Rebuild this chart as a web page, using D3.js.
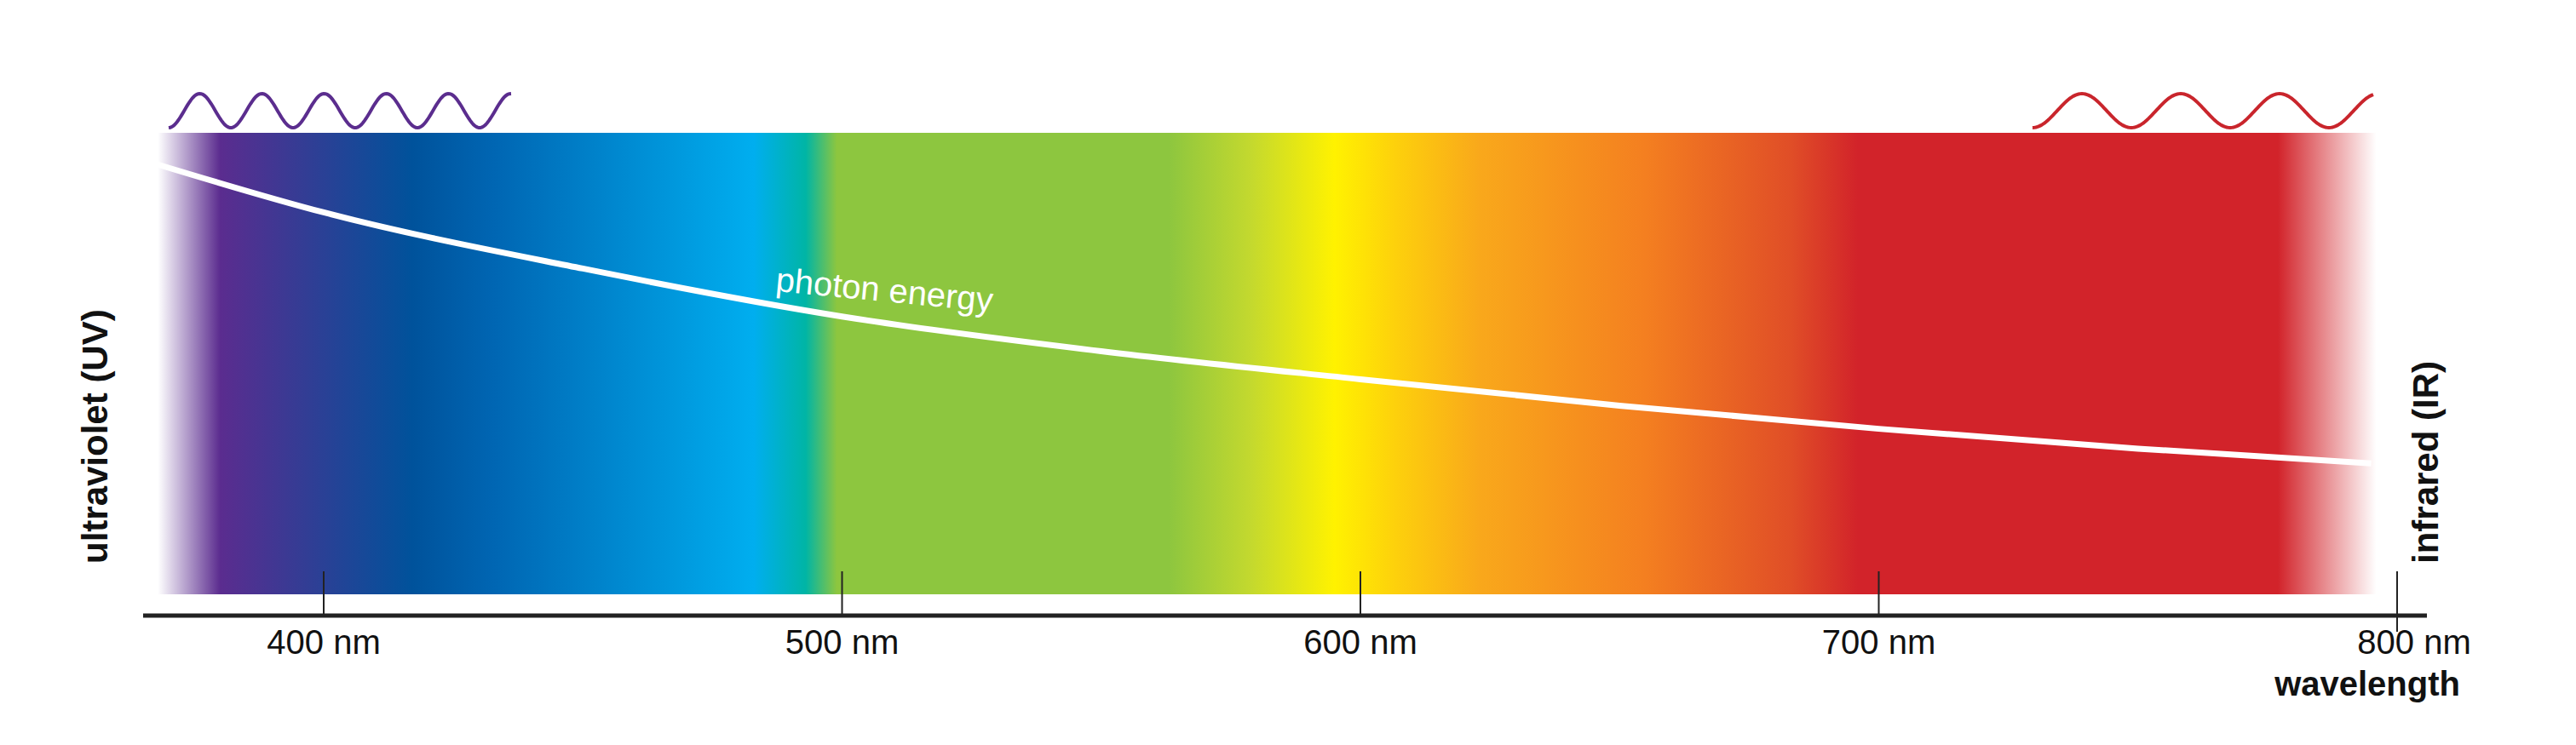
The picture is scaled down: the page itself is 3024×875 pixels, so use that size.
<!DOCTYPE html>
<html>
<head>
<meta charset="utf-8">
<script src="https://cdn.jsdelivr.net/npm/d3@7"></script>
<style>
  body { margin: 0; background: #fff; }
  text { font-family: "Liberation Sans", Arial, sans-serif; }
</style>
</head>
<body>
<div class="canvas"></div>
<script>
// data
const tickValues = [400, 500, 600, 700, 800];
const stopNm = [368, 380, 417, 433, 483, 493, 499, 563, 579, 595, 607, 623, 655, 683, 696, 777, 796];
const stopColor = ['#ffffff', '#5b2c8f', '#00529b', '#0066b3', '#00aeef', '#00b5a5', '#8dc63f', '#8dc63f',
  '#c4d92e', '#fff200', '#fdd00c', '#f9a81b', '#f47f20', '#e04e27', '#d2232a', '#d2232a', '#ffffff'];
const energyNm = [368, 400, 450, 500, 550, 600, 650, 700, 750, 795];
const energyEv = [3.37, 3.08, 2.74, 2.45, 2.24, 2.07, 1.91, 1.77, 1.65, 1.56];

const dims = { width: 3024, height: 875 };
const band = { top: 156, bottom: 698, left: 368, right: 796 };

const svg = d3.select('.canvas')
  .append('svg')
  .attr('width', dims.width)
  .attr('height', dims.height);

const x = d3.scaleLinear().domain([400, 800]).range([380, 2814]);
const y = d3.scaleLinear().domain([0, 4]).range([847, 71]);

// spectrum gradient
const grad = svg.append('defs').append('linearGradient')
  .attr('id', 'spec')
  .attr('gradientUnits', 'userSpaceOnUse')
  .attr('x1', x(band.left)).attr('x2', x(band.right))
  .attr('y1', 0).attr('y2', 0);

grad.selectAll('stop')
  .data(stopNm)
  .enter().append('stop')
  .attr('offset', d => (d - band.left) / (band.right - band.left))
  .attr('stop-color', (d, i) => stopColor[i]);

svg.append('rect')
  .attr('x', x(band.left))
  .attr('y', band.top)
  .attr('width', x(band.right) - x(band.left))
  .attr('height', band.bottom - band.top)
  .attr('fill', 'url(#spec)');

// photon energy curve
const line = d3.line()
  .x(d => x(d[0]))
  .y(d => y(d[1]))
  .curve(d3.curveMonotoneX);

svg.append('path')
  .attr('d', line(energyNm.map((n, i) => [n, energyEv[i]])))
  .attr('fill', 'none')
  .attr('stroke', '#fff')
  .attr('stroke-width', 7);

svg.append('text')
  .attr('transform', 'translate(1037,354) rotate(5.5)')
  .attr('text-anchor', 'middle')
  .attr('fill', '#fff')
  .attr('font-size', 40)
  .text('photon energy');

// waves above the band, starting at a trough
const wave = (x0, x1, period, color) => {
  const pts = d3.range(x0, x1 + 1, 2).map(px => [px, 130 + 20 * Math.cos(2 * Math.PI * (px - x0) / period)]);
  svg.append('path')
    .attr('d', d3.line()(pts))
    .attr('fill', 'none')
    .attr('stroke', color)
    .attr('stroke-width', 4);
};
wave(198, 600, 73, '#5b2d8e');
wave(2386, 2786, 116, '#c9252c');

// axis
const axisY = 723;
svg.append('line')
  .attr('x1', 168).attr('x2', 2849)
  .attr('y1', axisY).attr('y2', axisY)
  .attr('stroke', '#222').attr('stroke-width', 5);

svg.selectAll('.tick')
  .data(tickValues)
  .enter().append('line')
  .attr('x1', d => x(d)).attr('x2', d => x(d))
  .attr('y1', 671)
  .attr('y2', d => d === 800 ? 742 : axisY)
  .attr('stroke', '#222').attr('stroke-width', 2);

svg.selectAll('.lab')
  .data(tickValues)
  .enter().append('text')
  .attr('x', d => d === 800 ? x(d) + 20 : x(d))
  .attr('y', 768)
  .attr('text-anchor', 'middle')
  .attr('font-size', 40)
  .attr('fill', '#111')
  .text(d => d + ' nm');

svg.append('text')
  .attr('x', 2888).attr('y', 817)
  .attr('text-anchor', 'end')
  .attr('font-size', 40)
  .attr('font-weight', 'bold')
  .attr('fill', '#111')
  .text('wavelength');

svg.append('text')
  .attr('transform', 'translate(126,662) rotate(-90)')
  .attr('font-size', 42)
  .attr('font-weight', 'bold')
  .attr('fill', '#111')
  .text('ultraviolet (UV)');

svg.append('text')
  .attr('transform', 'translate(2862,662) rotate(-90)')
  .attr('font-size', 42)
  .attr('font-weight', 'bold')
  .attr('fill', '#111')
  .text('infrared (IR)');
</script>
</body>
</html>
